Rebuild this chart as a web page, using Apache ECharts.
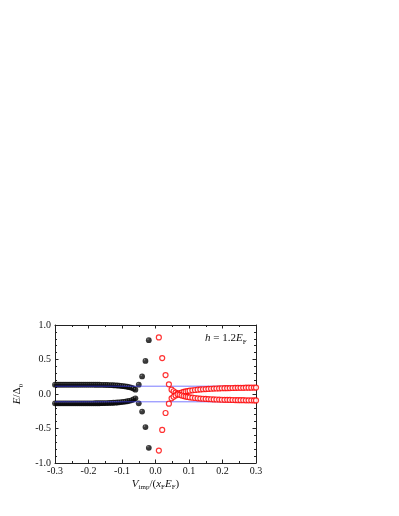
<!DOCTYPE html>
<html>
<head>
<meta charset="utf-8">
<script src="https://cdn.jsdelivr.net/npm/echarts@6/dist/echarts.min.js"></script>
<style>
  html, body { margin: 0; padding: 0; background: #fff; }
  #chart { width: 399px; height: 516px; }
</style>
</head>
<body>
<div id="chart"></div>
<script>
// flat branches (black, filled)
const blackV = [-0.3, -0.294, -0.288, -0.282, -0.276, -0.27, -0.264, -0.258, -0.252, -0.246,
    -0.24, -0.234, -0.228, -0.222, -0.216, -0.21, -0.204, -0.198, -0.192, -0.186,
    -0.18, -0.174, -0.168, -0.162, -0.156, -0.15, -0.144, -0.138, -0.132, -0.126,
    -0.12, -0.114, -0.108, -0.102, -0.096, -0.09, -0.084, -0.078, -0.072, -0.066, -0.06]
const blackUp = [0.135, 0.135, 0.135, 0.135, 0.135, 0.135, 0.135, 0.135, 0.135, 0.135,
    0.135, 0.135, 0.135, 0.135, 0.135, 0.135, 0.135, 0.135, 0.135, 0.135,
    0.134, 0.134, 0.134, 0.133, 0.133, 0.132, 0.131, 0.13, 0.129, 0.127,
    0.125, 0.123, 0.12, 0.117, 0.114, 0.11, 0.105, 0.099, 0.091, 0.08, 0.062]
const blackLow = [-0.135, -0.135, -0.135, -0.135, -0.135, -0.135, -0.135, -0.135, -0.135, -0.135,
    -0.135, -0.135, -0.135, -0.135, -0.135, -0.135, -0.135, -0.135, -0.135, -0.135,
    -0.134, -0.134, -0.134, -0.133, -0.133, -0.132, -0.131, -0.13, -0.129, -0.127,
    -0.125, -0.123, -0.12, -0.117, -0.114, -0.11, -0.105, -0.099, -0.091, -0.08, -0.062]
const blackSteepV = [-0.05, -0.04, -0.03, -0.02]
const blackSteepUp = [0.135, 0.255, 0.48, 0.78]
const blackSteepLow = [-0.135, -0.255, -0.48, -0.78]

// red, open circles
const redSteepV = [0.01, 0.02, 0.03, 0.04]
const redSteepUp = [0.82, 0.52, 0.275, 0.14]
const redSteepLow = [-0.82, -0.52, -0.275, -0.14]
const redV = [0.048, 0.054, 0.06, 0.066, 0.072, 0.078, 0.084, 0.09, 0.096, 0.102,
    0.11, 0.118, 0.126, 0.134, 0.142, 0.15, 0.158, 0.166, 0.174, 0.182,
    0.19, 0.198, 0.206, 0.214, 0.222, 0.23, 0.238, 0.246, 0.254, 0.262,
    0.27, 0.278, 0.286, 0.294, 0.3]
const redUp = [0.063, 0.04, 0.02, 0.004, 0.012, 0.022, 0.03, 0.037, 0.043, 0.048,
    0.053, 0.058, 0.062, 0.066, 0.069, 0.072, 0.074, 0.076, 0.078, 0.08,
    0.081, 0.083, 0.084, 0.085, 0.086, 0.087, 0.088, 0.089, 0.09, 0.09,
    0.091, 0.092, 0.092, 0.093, 0.093]
const redLow = [-0.063, -0.04, -0.02, -0.004, -0.012, -0.022, -0.03, -0.037, -0.043, -0.048,
    -0.053, -0.058, -0.062, -0.066, -0.069, -0.072, -0.074, -0.076, -0.078, -0.08,
    -0.081, -0.083, -0.084, -0.085, -0.086, -0.087, -0.088, -0.089, -0.09, -0.09,
    -0.091, -0.092, -0.092, -0.093, -0.093]

// blue reference levels
const blueLevels = [0.113, -0.113]
const xRange = [-0.3, 0.3]

const serif = '"Liberation Serif", "DejaVu Serif", serif'
const zip = (xs, ys) => xs.map((x, i) => [x, ys[i]])

const ball = new echarts.graphic.RadialGradient(0.35, 0.32, 0.6, [
    {offset: 0, color: '#7a7a7a'},
    {offset: 0.3, color: '#111'},
    {offset: 1, color: '#000'},
])

const rich = {
    i: {fontFamily: serif, fontStyle: 'italic', fontWeight: 'normal', fontSize: 11, color: '#111', lineHeight: 11, verticalAlign: 'top'},
    n: {fontFamily: serif, fontWeight: 'normal', fontSize: 11, color: '#111', lineHeight: 11, verticalAlign: 'top'},
    s: {fontFamily: serif, fontWeight: 'normal', fontSize: 7, color: '#111', lineHeight: 7, padding: [7, 0, 0, 0]},
}

const blackSeries = (data) => ({
    type: 'scatter',
    data,
    symbol: 'circle',
    symbolSize: 5.8,
    z: 2,
    itemStyle: {color: ball},
})
const redSeries = (data) => ({
    type: 'scatter',
    data,
    symbol: 'circle',
    symbolSize: 5,
    z: 4,
    itemStyle: {color: '#fff', borderColor: '#ff0000', borderWidth: 1.2},
})

const axisCommon = {
    type: 'value',
    axisLine: {show: true, onZero: false, lineStyle: {color: '#222', width: 1}},
    axisTick: {show: true, inside: true, length: 3.5, lineStyle: {color: '#222'}},
    minorTick: {show: true, length: 2, lineStyle: {color: '#222'}},
    splitLine: {show: false},
}

const chart = echarts.init(document.getElementById('chart'), null, {renderer: 'canvas'})
chart.setOption({
    backgroundColor: '#fff',
    animation: false,
    grid: {left: 55, top: 325, width: 201, height: 138},
    title: {
        text: '{i|h}{n| = 1.2}{i|E}{s|F}',
        left: 205,
        top: 333,
        padding: 0,
        textStyle: {fontWeight: 'normal', rich},
    },
    xAxis: [
        {
            ...axisCommon,
            position: 'bottom',
            min: -0.3,
            max: 0.3,
            interval: 0.1,
            minorTick: {...axisCommon.minorTick, splitNumber: 2},
            axisLabel: {
                fontFamily: serif, fontSize: 10, color: '#111', margin: 3,
                formatter: (v) => v.toFixed(1),
            },
            name: '{i|V}{s|imp}{n|/(}{i|x}{s|F}{i|E}{s|F}{n|)}',
            nameLocation: 'middle',
            nameGap: 15,
            nameTextStyle: {rich},
        },
        {
            ...axisCommon,
            position: 'top',
            min: -0.3,
            max: 0.3,
            interval: 0.1,
            minorTick: {...axisCommon.minorTick, splitNumber: 2},
            axisLabel: {show: false},
        },
    ],
    yAxis: [
        {
            ...axisCommon,
            position: 'left',
            min: -1,
            max: 1,
            interval: 0.5,
            minorTick: {...axisCommon.minorTick, splitNumber: 5},
            axisLabel: {
                fontFamily: serif, fontSize: 10, color: '#111', margin: 4,
                formatter: (v) => v.toFixed(1),
            },
            name: '{i|E}{n|/Δ}{s|0}',
            nameLocation: 'middle',
            nameRotate: 90,
            nameGap: 22,
            nameTextStyle: {rich},
        },
        {
            ...axisCommon,
            position: 'right',
            min: -1,
            max: 1,
            interval: 0.5,
            minorTick: {...axisCommon.minorTick, splitNumber: 5},
            axisLabel: {show: false},
        },
    ],
    series: [
        blackSeries(zip(blackV, blackUp)),
        blackSeries(zip(blackV, blackLow)),
        blackSeries(zip(blackSteepV, blackSteepUp)),
        blackSeries(zip(blackSteepV, blackSteepLow)),
        ...blueLevels.map((lv) => ({
            type: 'line',
            data: xRange.map((x) => [x, lv]),
            symbol: 'none',
            z: 3,
            lineStyle: {color: '#3a3aff', width: 0.8, opacity: 0.85},
        })),
        redSeries(zip(redSteepV, redSteepUp)),
        redSeries(zip(redSteepV, redSteepLow)),
        redSeries(zip(redV, redUp)),
        redSeries(zip(redV, redLow)),
    ],
})
</script>
</body>
</html>
